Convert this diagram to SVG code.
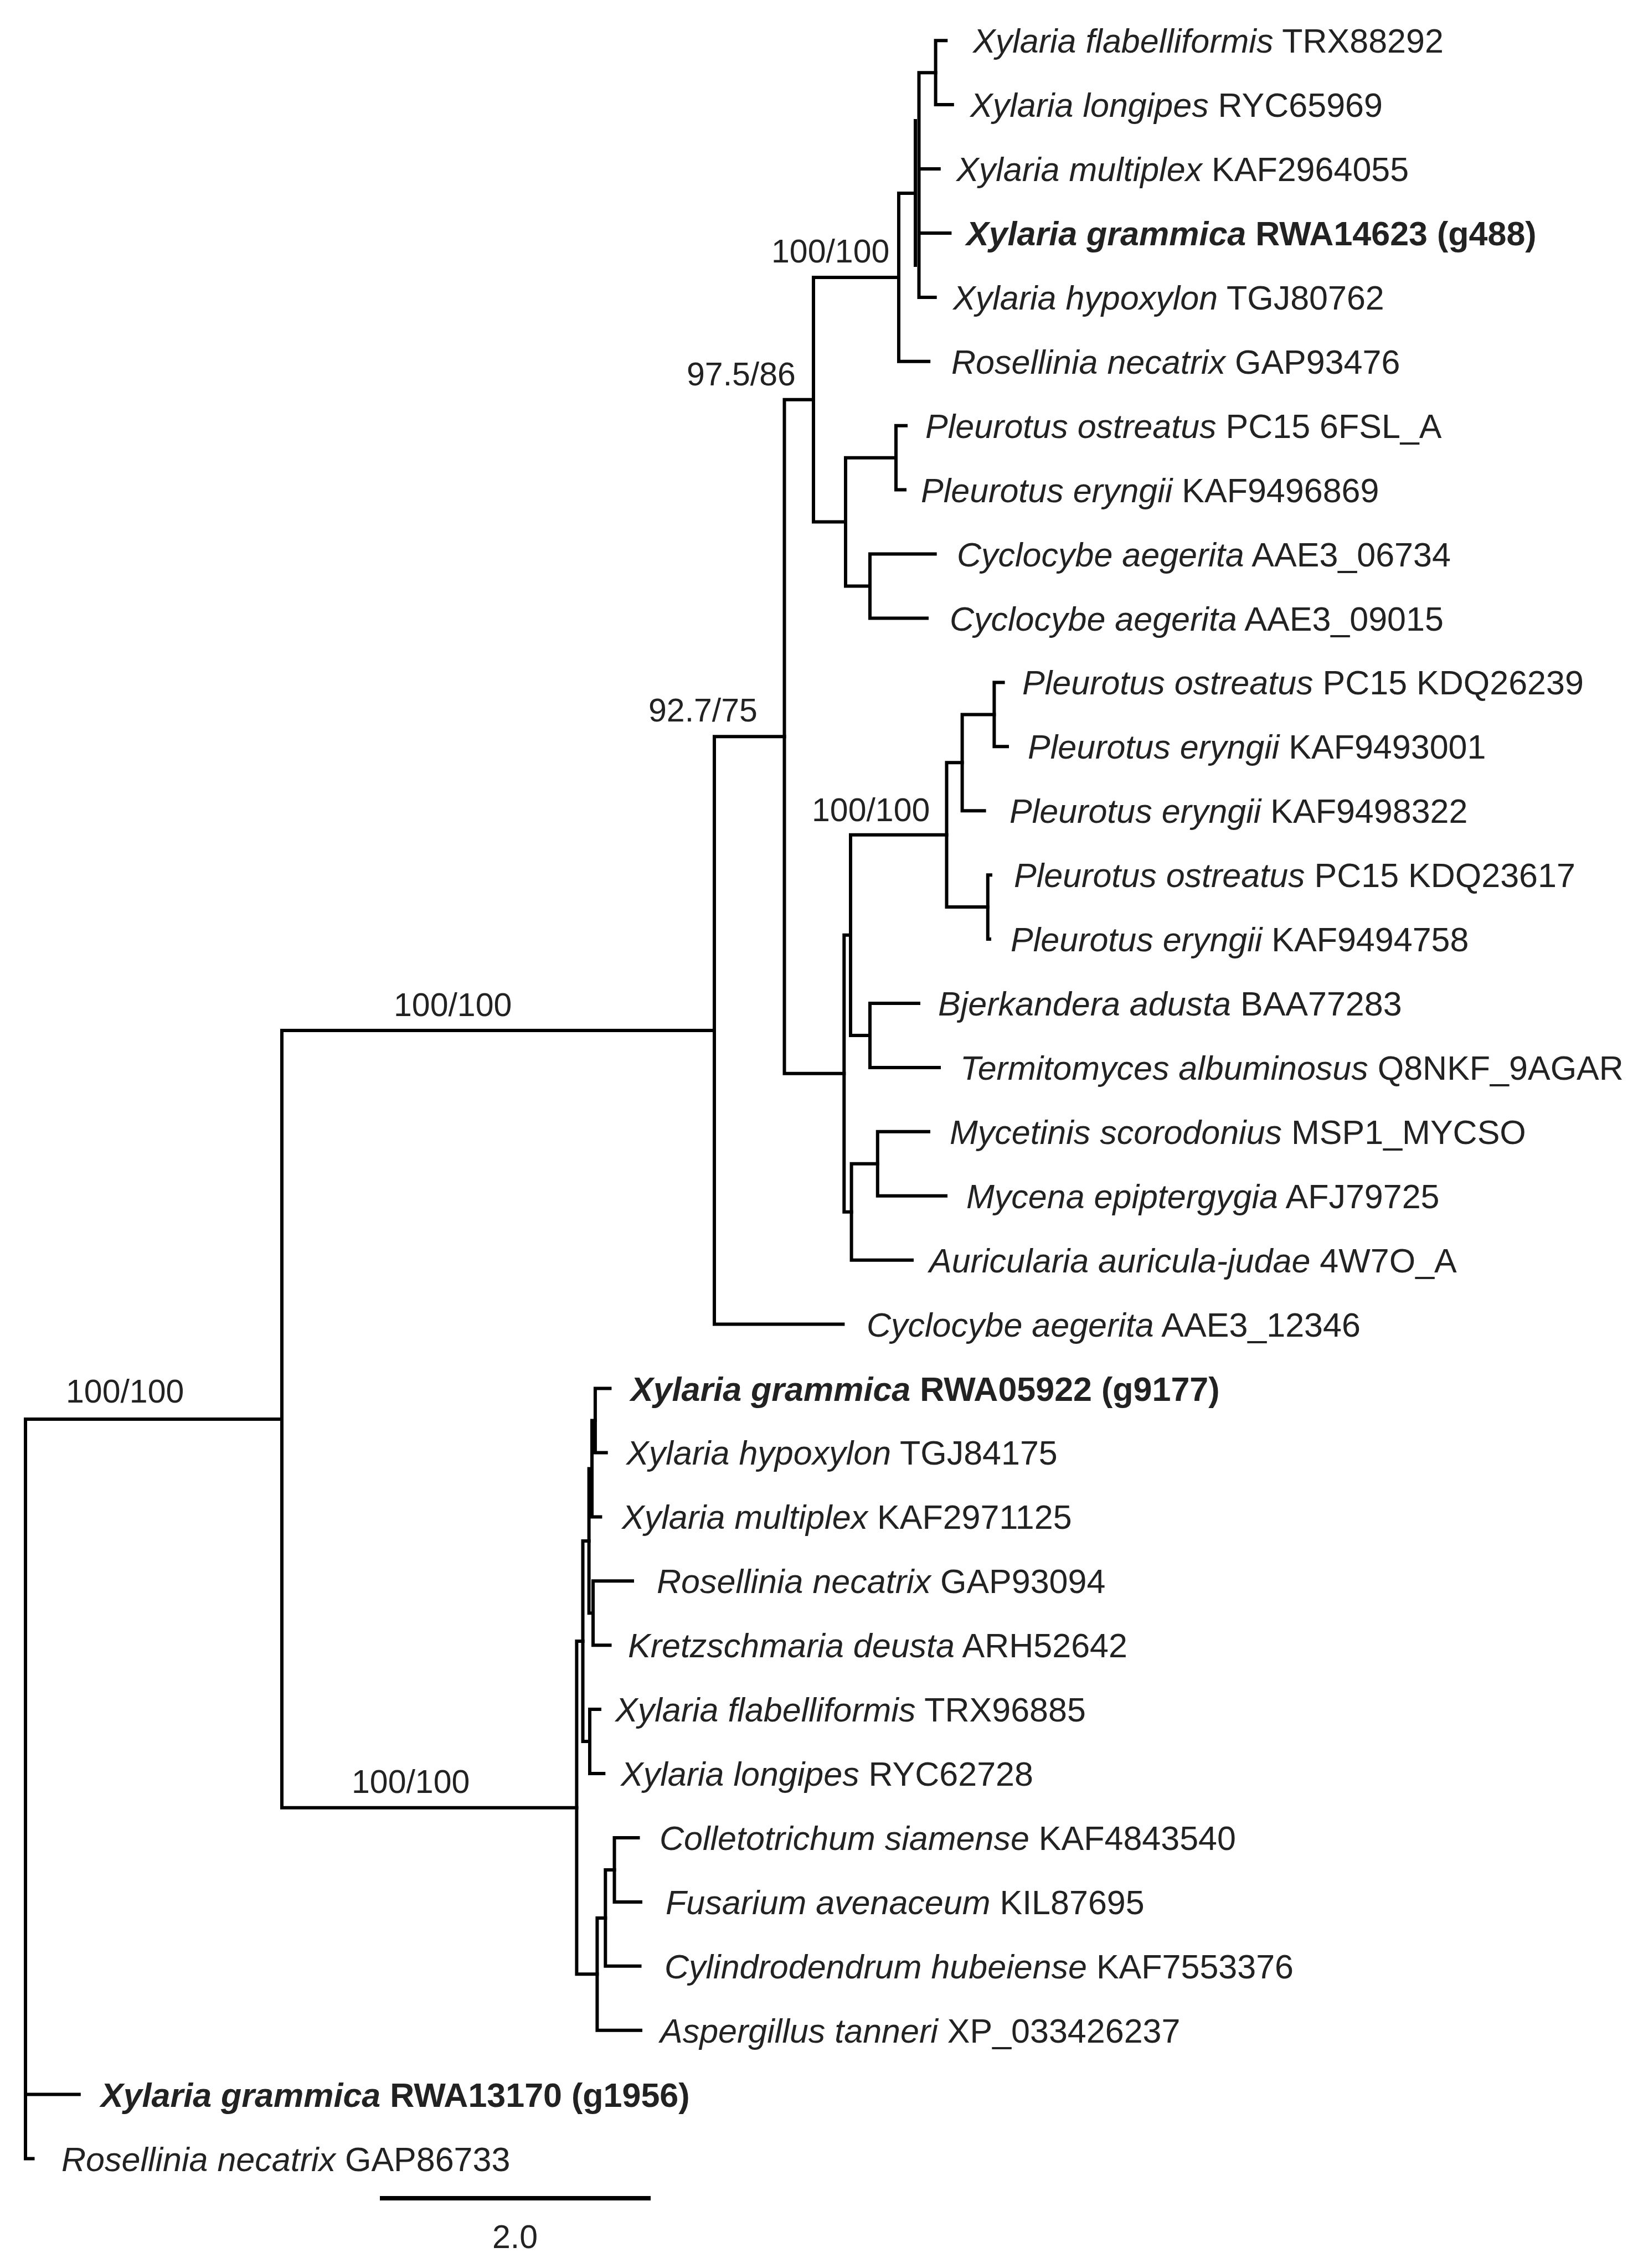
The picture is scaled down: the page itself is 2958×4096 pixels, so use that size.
<svg xmlns="http://www.w3.org/2000/svg" width="2958" height="4096" viewBox="0 0 2958 4096">
<style>
.t{font-family:"Liberation Sans",Arial,Helvetica,sans-serif;font-size:61px;fill:#222}
.s{font-family:"Liberation Sans",Arial,Helvetica,sans-serif;font-size:59px;fill:#222}
.b{font-weight:bold}
.i{font-style:italic}
.br{fill:none;stroke:#000;stroke-width:6;stroke-linecap:square}
.sb{fill:none;stroke:#000;stroke-width:8}
</style>
<rect width="2958" height="4096" fill="#fff"/>
<g id="connectors" class="br">
<path d="M1659.5 131.2V536.9M1659.5 131.2H1689.6M1659.5 305H1695.8M1659.5 421H1715.4M1659.5 536.9H1688.7"/>
<path d="M1653 218V479"/>
<path d="M1689.6 73.2V189.1M1689.6 73.2H1708.3M1689.6 189.1H1719.8"/>
<path d="M1623 349V652.8M1623 349H1653M1623 652.8H1677.2"/>
<path d="M1469 501V942.6M1469 501H1623M1469 942.6H1527"/>
<path d="M1527 826.7V1058.5M1527 826.7H1618M1527 1058.5H1571"/>
<path d="M1618 768.7V884.6M1618 768.7H1636M1618 884.6H1634"/>
<path d="M1571 1000.6V1116.5M1571 1000.6H1688.7M1571 1116.5H1674"/>
<path d="M1416.5 721.8V1938.8M1416.5 721.8H1469M1416.5 1938.8H1524.3"/>
<path d="M1524.3 1688.8V2188.7M1524.3 1688.8H1536M1524.3 2188.7H1537.6"/>
<path d="M1536 1507.7V1870M1536 1507.7H1709.5M1536 1870H1571"/>
<path d="M1709.5 1377.3V1638.1M1709.5 1377.3H1737.6M1709.5 1638.1H1783.8"/>
<path d="M1737.6 1290.4V1464.2M1737.6 1290.4H1795.4M1737.6 1464.2H1777.6"/>
<path d="M1795.4 1232.4V1348.3M1795.4 1232.4H1811.6M1795.4 1348.3H1819"/>
<path d="M1783.8 1580.2V1696.1M1783.8 1580.2H1789M1783.8 1696.1H1787"/>
<path d="M1571 1812V1927.9M1571 1812H1659M1571 1927.9H1696"/>
<path d="M1537.6 2101.8V2275.7M1537.6 2101.8H1584.8M1537.6 2275.7H1647"/>
<path d="M1584.8 2043.8V2159.8M1584.8 2043.8H1677M1584.8 2159.8H1708"/>
<path d="M1290 1330.3V2391.6M1290 1330.3H1416.5M1290 2391.6H1522.4"/>
<path d="M509 1861V3264.7M509 1861H1290M509 3264.7H1041.4"/>
<path d="M46 2562.9V3898.6M46 2562.9H509M46 3782.6H142.8M46 3898.6H59.5"/>
<path d="M1041.4 2964V3565.3M1041.4 2964H1052.5M1041.4 3565.3H1078.4"/>
<path d="M1052.5 2782.9V3145.1M1052.5 2782.9H1063.6M1052.5 3145.1H1065"/>
<path d="M1063.6 2652.4V2913.3M1063.6 2652.4H1069M1063.6 2913.3H1071"/>
<path d="M1069 2565.5V2739.4M1069 2565.5H1074.9M1069 2739.4H1084.4"/>
<path d="M1074.9 2507.5V2623.4M1074.9 2507.5H1101.4M1074.9 2623.4H1094.7"/>
<path d="M1071 2855.3V2971.2M1071 2855.3H1142M1071 2971.2H1101.5"/>
<path d="M1065 3087.1V3203M1065 3087.1H1082.9M1065 3203H1090.3"/>
<path d="M1078.4 3463.9V3666.7M1078.4 3463.9H1093.3M1078.4 3666.7H1157"/>
<path d="M1093.3 3377V3550.8M1093.3 3377H1109.5M1093.3 3550.8H1155.5"/>
<path d="M1109.5 3319V3434.9M1109.5 3319H1152.5M1109.5 3434.9H1157"/>
</g>
<g id="support-labels" class="s">
<g id="s-xylaria"><text x="1393" y="474">100/100</text></g>
<g id="s-97"><text x="1240" y="696">97.5/86</text></g>
<g id="s-92"><text x="1171" y="1303">92.7/75</text></g>
<g id="s-pleurotus"><text x="1466" y="1483">100/100</text></g>
<g id="s-upper"><text x="711" y="1835">100/100</text></g>
<g id="s-root"><text x="119" y="2533">100/100</text></g>
<g id="s-lower"><text x="635" y="3238">100/100</text></g>
</g>
<g id="leaves" class="t">
<g id="L0"><text x="1757" y="95"><tspan class="i">Xylaria flabelliformis</tspan> TRX88292</text></g>
<g id="L1"><text x="1752" y="211"><tspan class="i">Xylaria longipes</tspan> RYC65969</text></g>
<g id="L2"><text x="1727" y="327"><tspan class="i">Xylaria multiplex</tspan> KAF2964055</text></g>
<g id="L3"><text class="b" x="1745" y="443"><tspan class="i">Xylaria grammica</tspan> RWA14623 (g488)</text></g>
<g id="L4"><text x="1721" y="559"><tspan class="i">Xylaria hypoxylon</tspan> TGJ80762</text></g>
<g id="L5"><text x="1718" y="675"><tspan class="i">Rosellinia necatrix</tspan> GAP93476</text></g>
<g id="L6"><text x="1671" y="791"><tspan class="i">Pleurotus ostreatus</tspan> PC15 6FSL_A</text></g>
<g id="L7"><text x="1663" y="907"><tspan class="i">Pleurotus eryngii</tspan> KAF9496869</text></g>
<g id="L8"><text x="1728" y="1023"><tspan class="i">Cyclocybe aegerita</tspan> AAE3_06734</text></g>
<g id="L9"><text x="1715" y="1139"><tspan class="i">Cyclocybe aegerita</tspan> AAE3_09015</text></g>
<g id="L10"><text x="1846" y="1254"><tspan class="i">Pleurotus ostreatus</tspan> PC15 KDQ26239</text></g>
<g id="L11"><text x="1856" y="1370"><tspan class="i">Pleurotus eryngii</tspan> KAF9493001</text></g>
<g id="L12"><text x="1823" y="1486"><tspan class="i">Pleurotus eryngii</tspan> KAF9498322</text></g>
<g id="L13"><text x="1831" y="1602"><tspan class="i">Pleurotus ostreatus</tspan> PC15 KDQ23617</text></g>
<g id="L14"><text x="1825" y="1718"><tspan class="i">Pleurotus eryngii</tspan> KAF9494758</text></g>
<g id="L15"><text x="1694" y="1834"><tspan class="i">Bjerkandera adusta</tspan> BAA77283</text></g>
<g id="L16"><text x="1734" y="1950"><tspan class="i">Termitomyces albuminosus</tspan> Q8NKF_9AGAR</text></g>
<g id="L17"><text x="1715" y="2066"><tspan class="i">Mycetinis scorodonius</tspan> MSP1_MYCSO</text></g>
<g id="L18"><text x="1745" y="2182"><tspan class="i">Mycena epiptergygia</tspan> AFJ79725</text></g>
<g id="L19"><text x="1678" y="2298"><tspan class="i">Auricularia auricula-judae</tspan> 4W7O_A</text></g>
<g id="L20"><text x="1565" y="2414"><tspan class="i">Cyclocybe aegerita</tspan> AAE3_12346</text></g>
<g id="L21"><text class="b" x="1139" y="2530"><tspan class="i">Xylaria grammica</tspan> RWA05922 (g9177)</text></g>
<g id="L22"><text x="1131" y="2645"><tspan class="i">Xylaria hypoxylon</tspan> TGJ84175</text></g>
<g id="L23"><text x="1123" y="2761"><tspan class="i">Xylaria multiplex</tspan> KAF2971125</text></g>
<g id="L24"><text x="1186" y="2877"><tspan class="i">Rosellinia necatrix</tspan> GAP93094</text></g>
<g id="L25"><text x="1134" y="2993"><tspan class="i">Kretzschmaria deusta</tspan> ARH52642</text></g>
<g id="L26"><text x="1111" y="3109"><tspan class="i">Xylaria flabelliformis</tspan> TRX96885</text></g>
<g id="L27"><text x="1121" y="3225"><tspan class="i">Xylaria longipes</tspan> RYC62728</text></g>
<g id="L28"><text x="1191" y="3341"><tspan class="i">Colletotrichum siamense</tspan> KAF4843540</text></g>
<g id="L29"><text x="1202" y="3457"><tspan class="i">Fusarium avenaceum</tspan> KIL87695</text></g>
<g id="L30"><text x="1200" y="3573"><tspan class="i">Cylindrodendrum hubeiense</tspan> KAF7553376</text></g>
<g id="L31"><text x="1192" y="3689"><tspan class="i">Aspergillus tanneri</tspan> XP_033426237</text></g>
<g id="L32"><text class="b" x="182" y="3805"><tspan class="i">Xylaria grammica</tspan> RWA13170 (g1956)</text></g>
<g id="L33"><text x="111" y="3921"><tspan class="i">Rosellinia necatrix</tspan> GAP86733</text></g>
</g>
<g id="scale-bar">
<path class="sb" d="M686 3970H1175"/>
<text class="s" x="930" y="4060" text-anchor="middle">2.0</text>
</g>
</svg>
